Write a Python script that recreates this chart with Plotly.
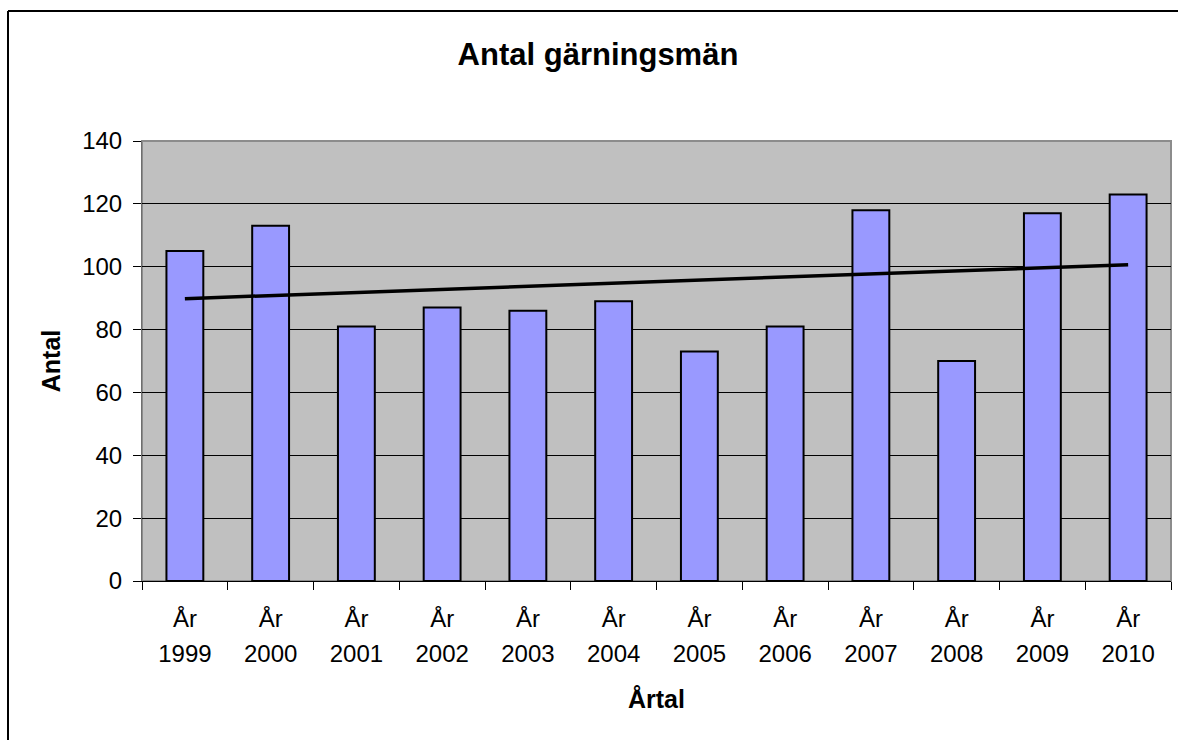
import numpy as np
import plotly.graph_objects as go

# Data
years = ["1999", "2000", "2001", "2002", "2003", "2004",
         "2005", "2006", "2007", "2008", "2009", "2010"]
year_prefix = ["År"] * len(years)
values = [105, 113, 81, 87, 86, 89, 73, 81, 118, 70, 117, 123]
y_ticks = [0, 20, 40, 60, 80, 100, 120, 140]

title_text = "Antal gärningsmän"
x_title = "Årtal"
y_title = "Antal"

# Linear trendline (least squares) computed from the data
idx = np.arange(len(values))
slope, intercept = np.polyfit(idx, values, 1)
trend = (slope * idx + intercept).tolist()

FONT = "Liberation Sans, Arial, sans-serif"

fig = go.Figure()
fig.add_trace(go.Bar(
    x=years, y=values,
    marker=dict(color="#9999FF", line=dict(color="#000000", width=2)),
    width=0.43,
    xaxis="x", yaxis="y",
    showlegend=False, hoverinfo="x+y",
))
fig.add_trace(go.Scatter(
    x=years, y=trend, mode="lines",
    line=dict(color="#000000", width=3.5),
    xaxis="x2", yaxis="y",
    showlegend=False, hoverinfo="skip",
))

fx0 = (8 - 142) / 1029
fy1 = (581 - 11) / 440

fig.update_layout(
    width=1178, height=740,
    margin=dict(l=142, r=7, t=141, b=159),
    paper_bgcolor="#FFFFFF",
    plot_bgcolor="#C0C0C0",
    font=dict(family=FONT, size=24, color="#000000"),
    title=dict(
        text=f"<b>{title_text}</b>",
        font=dict(family=FONT, size=31, color="#000000"),
        x=598 / 1178, xanchor="center",
        y=1 - 54 / 740, yanchor="middle",
        xref="container", yref="container",
    ),
    xaxis=dict(
        type="category",
        categoryorder="array", categoryarray=years,
        tickmode="array", tickvals=years, ticktext=year_prefix,
        tickson="boundaries",
        ticks="outside", ticklen=8, tickcolor="#000000", tickwidth=1,
        ticklabelstandoff=16,
        showline=True, linecolor="#000000", linewidth=1,
        showgrid=False, zeroline=False,
        tickfont=dict(family=FONT, size=24),
        fixedrange=True,
    ),
    xaxis2=dict(
        type="category",
        overlaying="x", matches="x", anchor="y", side="bottom",
        categoryorder="array", categoryarray=years,
        tickmode="array", tickvals=years, ticktext=years,
        ticks="", showline=False, showgrid=False, zeroline=False,
        ticklabelstandoff=56,
        tickfont=dict(family=FONT, size=24),
        title=dict(text=f"<b>{x_title}</b>", standoff=24,
                   font=dict(family=FONT, size=25)),
    ),
    yaxis=dict(
        range=[0, 140],
        tickmode="array", tickvals=y_ticks,
        ticks="outside", ticklen=8, tickcolor="#000000", tickwidth=1,
        ticklabelstandoff=6,
        showline=True, linecolor="#6E6E6E", linewidth=1,
        showgrid=True, gridcolor="#000000", gridwidth=1,
        zeroline=False,
        tickfont=dict(family=FONT, size=24),
        title=dict(text=f"<b>{y_title}</b>", standoff=14,
                   font=dict(family=FONT, size=25)),
        fixedrange=True,
    ),
    shapes=[
        # plot-area border (top/right grey)
        dict(type="rect", xref="paper", yref="paper", x0=0, y0=0, x1=1, y1=1,
             line=dict(color="#8C8C8C", width=2), layer="below"),
        # outer chart frame: left and top edges (right/bottom lie outside the view)
        dict(type="line", xref="paper", yref="paper",
             x0=fx0, y0=-0.5, x1=fx0, y1=fy1,
             line=dict(color="#000000", width=2)),
        dict(type="line", xref="paper", yref="paper",
             x0=fx0, y0=fy1, x1=1.1, y1=fy1,
             line=dict(color="#000000", width=2)),
    ],
    bargap=0.57,
)

fig.write_html(
    "out.html",
    config={"displayModeBar": False},
    post_script="document.body.style.margin='0px';document.body.style.overflow='hidden';",
)
